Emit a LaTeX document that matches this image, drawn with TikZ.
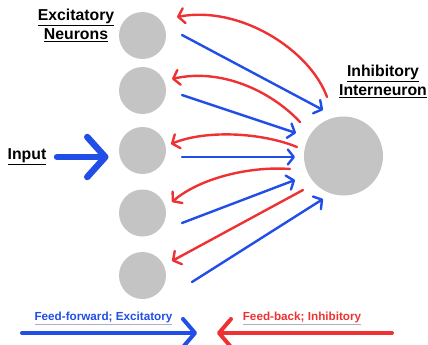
\documentclass[tikz,border=0pt]{standalone}
\usepackage{fontspec}
\setmainfont{Liberation Sans}
\usetikzlibrary{arrows.meta,calc}
\definecolor{ffblue}{RGB}{33,78,230}
\definecolor{fbred}{RGB}{238,50,52}
\definecolor{cellgray}{RGB}{196,196,196}
\definecolor{ulgray}{RGB}{170,175,195}
\begin{document}
\begin{tikzpicture}[x=1pt,y=-1pt,
  exc/.style={circle,fill=cellgray,minimum size=47pt,inner sep=0pt},
  inhc/.style={circle,fill=cellgray,minimum size=79pt,inner sep=0pt},
  ff/.style={draw=ffblue,line width=2.4pt,line cap=round,-{Straight Barb[length=6pt,width=15pt,round]}},
  fb/.style={draw=fbred,line width=2.4pt,line cap=round,-{Straight Barb[length=6pt,width=15pt,round]}},
  head/.style={font=\bfseries\fontsize{15.8}{19}\selectfont,align=center,inner sep=0pt},
  legtext/.style={font=\bfseries\fontsize{11.7}{13}\selectfont,inner sep=0pt}]
\useasboundingbox (0,0) rectangle (428,345);
% neurons
\node[exc] (e1) at (142.5,35.5) {};
\node[exc] (e2) at (142.5,90.5) {};
\node[exc] (e3) at (142.5,150.5) {};
\node[exc] (e4) at (142.5,213) {};
\node[exc] (e5) at (142.5,275.5) {};
\node[inhc] (inh) at (343.5,156) {};
% labels
\node[head] (lexc) at (76,25) {\underline{Excitatory}\\\underline{Neurons}};
\node[head] (linh) at (383,81) {\underline{Inhibitory}\\\underline{Interneuron}};
\node[head] (linp) at (27,157) {\underline{Input}};
% input arrow
\coordinate (inp) at (57,157);
\draw[draw=ffblue,line width=6.5pt,line cap=round,-{Straight Barb[length=18pt,width=40pt,round]}] (inp) -- ($(e3)+(-34,6.5)$);
% feed-forward
\draw[ff] ($(e1)+(39.5,-0.5)$) -- ($(inh)+(-20.5,-46)$);
\draw[ff] ($(e2)+(39.5,4.5)$) -- ($(inh)+(-47.5,-23)$);
\draw[ff] ($(e3)+(39.5,6.5)$) -- ($(inh)+(-48.5,1)$);
\draw[ff] ($(e4)+(39.5,10)$) -- ($(inh)+(-48.5,24)$);
\draw[ff] ($(e5)+(49.5,6.5)$) -- ($(inh)+(-20.5,43)$);
% feed-back
\draw[fb] ($(inh)+(-16.5,-59)$) .. controls (310,50) and (240,5) .. ($(e1)+(34.5,-18.5)$);
\draw[fb] ($(inh)+(-43.5,-34)$) .. controls (270,90) and (220,68) .. ($(e2)+(29.5,-11.5)$);
\draw[fb] ($(inh)+(-46.5,-9)$) .. controls (260,132) and (205,130) .. ($(e3)+(28.5,-6.5)$);
\draw[fb] ($(inh)+(-53.5,13)$) .. controls (250,166) and (200,178) .. ($(e4)+(29.5,-11)$);
\draw[fb] ($(inh)+(-40.5,34)$) -- ($(e5)+(29.5,-14.5)$);
% legend
\coordinate (lb0) at (22,333);
\coordinate (lb1) at (197,333);
\coordinate (lr0) at (392,333);
\coordinate (lr1) at (217,333);
\draw[draw=ffblue,line width=4pt,line cap=round,-{Straight Barb[length=12pt,width=28pt,round]}] (lb0) -- (lb1);
\draw[draw=fbred,line width=4pt,line cap=round,-{Straight Barb[length=12pt,width=28pt,round]}] (lr0) -- (lr1);
\node[legtext] (lff) at (103.5,318) {{\color{ulgray}\underline{\textcolor{ffblue}{Feed-forward; Excitatory}}}};
\node[legtext] (lfb) at (302,318) {{\color{ulgray}\underline{\textcolor{fbred}{Feed-back; Inhibitory}}}};
\end{tikzpicture}
\end{document}
